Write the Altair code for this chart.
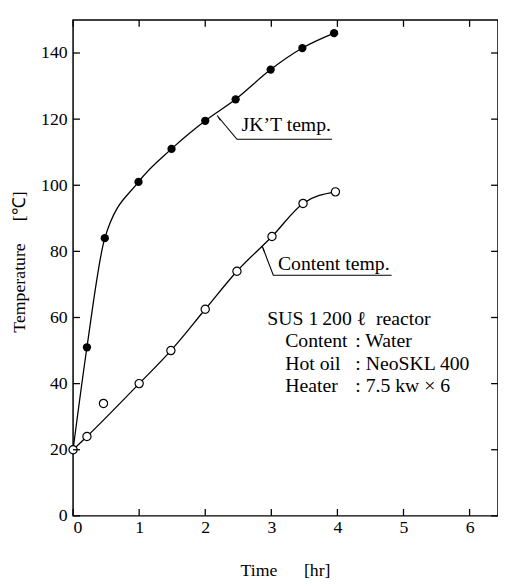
import altair as alt
import pandas as pd

# ---- data ----
time_jkt = [0, 0.21, 0.48, 0.99, 1.49, 2.0, 2.46, 2.99, 3.47, 3.95]
temp_jkt = [20, 51, 84, 101, 111, 119.5, 126, 135, 141.5, 146]

time_content = [0, 0.21, 0.46, 1.0, 1.48, 2.0, 2.48, 3.01, 3.48, 3.97]
temp_content = [20, 24, 34, 40, 50, 62.5, 74, 84.5, 94.5, 98]
content_on_curve = [True, True, False, True, True, True, True, True, True, True]

x_ticks = [0, 1, 2, 3, 4, 5, 6]
y_ticks = [0, 20, 40, 60, 80, 100, 120, 140]

# annotation leaders (tip, elbow, end of underline) in data units
leader_group = ["jkt", "jkt", "jkt", "cont", "cont", "cont"]
leader_x = [2.18, 2.48, 3.92, 2.86, 3.03, 4.82]
leader_y = [121.1, 113.9, 113.9, 81.7, 72.8, 72.8]
arrow_x = [2.215, 2.88]
arrow_y = [120.1, 80.6]
arrow_angle = [320, 340]

label_text = ["JK\u2019T temp.", "Content temp.", "SUS 1\u2009200 \u2113\u00a0\u00a0reactor",
              "Content", "Hot oil", "Heater",
              ": Water", ": NeoSKL 400", ": 7.5 kw \u00d7 6"]
label_x = [2.55, 3.10, 2.94, 3.21, 3.21, 3.21, 4.27, 4.27, 4.27]
label_y = [118.1, 76.3, 59.6, 52.8, 45.9, 39.4, 52.8, 45.9, 39.4]

FONT = "Liberation Serif"
W, H = 431, 503

jkt = pd.DataFrame({"x": time_jkt, "y": temp_jkt})
cont = pd.DataFrame({"x": time_content, "y": temp_content, "on": content_on_curve})
cont_line = cont[cont["on"]]
xt = pd.DataFrame({"x": x_ticks})
yt = pd.DataFrame({"y": y_ticks})
lead = pd.DataFrame({"g": leader_group, "x": leader_x, "y": leader_y,
                     "o": list(range(len(leader_x)))})
arr = pd.DataFrame({"x": arrow_x, "y": arrow_y, "a": arrow_angle})
labs = pd.DataFrame({"t": label_text, "x": label_x, "y": label_y})

xscale = alt.Scale(domain=[0, 6.43], nice=False, zero=False)
yscale = alt.Scale(domain=[0, 150], nice=False, zero=False)

X = alt.X("x:Q", scale=xscale, axis=alt.Axis(
    values=x_ticks, labelPadding=3,
    title="Time\u00a0\u00a0\u00a0\u00a0\u00a0\u00a0[hr]",
    titleX=215, titleY=46, titleBaseline="top"))
Y = alt.Y("y:Q", scale=yscale, axis=alt.Axis(
    values=y_ticks, labelPadding=6,
    title="Temperature\u00a0\u00a0\u00a0\u00a0\u00a0[\u2103]",
    titleX=-54, titleY=245, titleAngle=270, titleBaseline="middle", titleAlign="center"))

line_jkt = alt.Chart(jkt).mark_line(color="black", strokeWidth=1.3,
                                    interpolate="monotone").encode(x=X, y=Y)
line_cont = alt.Chart(cont_line).mark_line(color="black", strokeWidth=1.3,
                                           interpolate="monotone").encode(x=X, y=Y)
pts_jkt = alt.Chart(jkt).mark_point(shape="circle", filled=True, color="black",
                                    size=70, opacity=1).encode(x=X, y=Y)
pts_cont = alt.Chart(cont).mark_point(shape="circle", filled=True, fill="white",
                                      stroke="black", strokeWidth=1.2, size=70,
                                      opacity=1).encode(x=X, y=Y)

tick_l = alt.Chart(yt).mark_rule(color="black", strokeWidth=1.3).encode(
    y=Y, x=alt.value(0), x2=alt.value(7))
tick_r = alt.Chart(yt).mark_rule(color="black", strokeWidth=1.3).encode(
    y=Y, x=alt.value(W - 7), x2=alt.value(W))
tick_b = alt.Chart(xt).mark_rule(color="black", strokeWidth=1.3).encode(
    x=X, y=alt.value(H - 7), y2=alt.value(H))
tick_t = alt.Chart(xt).mark_rule(color="black", strokeWidth=1.3).encode(
    x=X, y=alt.value(0), y2=alt.value(7))

leaders = alt.Chart(lead).mark_line(color="black", strokeWidth=1.1).encode(
    x=X, y=Y, detail="g:N", order="o:Q")
arrows = alt.Chart(arr).mark_point(shape="wedge", filled=True, color="black",
                                   size=40, opacity=1).encode(
    x=X, y=Y, angle=alt.Angle("a:Q", scale=None))
texts = alt.Chart(labs).mark_text(align="left", baseline="middle", font=FONT,
                                  fontSize=20, color="black").encode(
    x=X, y=Y, text="t:N")

chart = alt.layer(
    line_jkt, line_cont, leaders, arrows, pts_jkt, pts_cont,
    tick_l, tick_r, tick_b, tick_t, texts
).properties(
    width=W, height=H,
    autosize=alt.AutoSizeParams(type="none"),
    padding={"left": 66, "top": 8, "right": 0, "bottom": 66},
    background="white",
).configure_view(
    stroke="black", strokeWidth=1.5
).configure_axis(
    ticks=False, tickSize=0, domain=False, grid=False,
    labelFont=FONT, labelFontSize=18, labelColor="black",
    titleFont=FONT, titleFontSize=18, titleFontWeight="normal", titleColor="black",
)

chart.save("out.html", embed_options={"renderer": "svg", "actions": False})
